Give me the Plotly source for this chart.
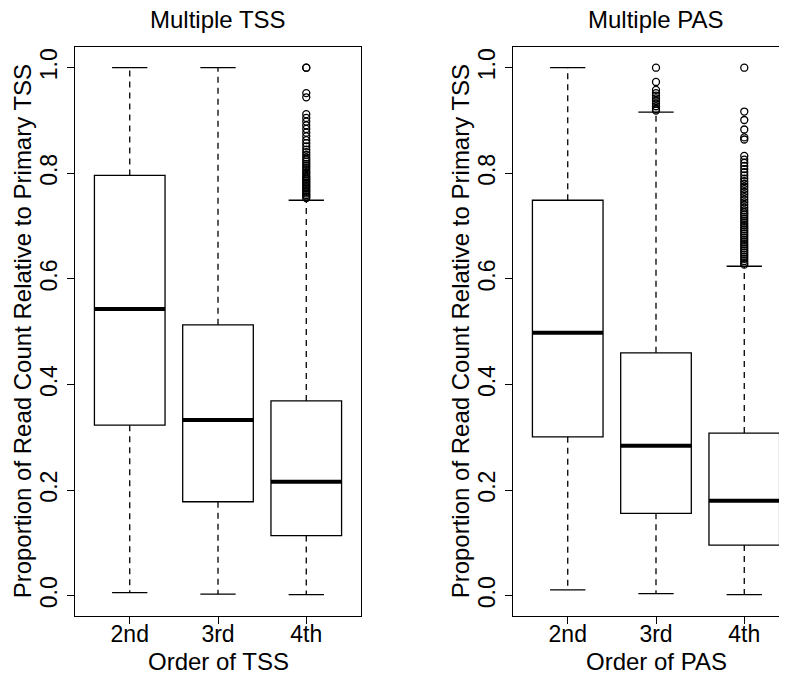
import plotly.graph_objects as go

# The page body has a default 8px margin; the figure is laid out so that it
# lands on the 787x673 window exactly.
OFF = 8
W, H = 787 - OFF, 673 - OFF

categories = ["2nd", "3rd", "4th"]

# Multiple TSS panel
tss_lower = [0.006, 0.003, 0.002]
tss_q1 = [0.323, 0.178, 0.114]
tss_median = [0.543, 0.333, 0.216]
tss_q3 = [0.796, 0.513, 0.369]
tss_upper = [1.0, 1.0, 0.749]
tss_out_2nd = []
tss_out_3rd = []
tss_out_4th = [1.0, 1.0, 0.952, 0.944, 0.912, 0.905, 0.898, 0.891, 0.884, 0.877,
               0.870, 0.863, 0.857, 0.851, 0.845, 0.840, 0.835, 0.830, 0.826, 0.822,
               0.818, 0.814, 0.810, 0.806, 0.802, 0.799, 0.795, 0.792, 0.789, 0.786,
               0.783, 0.780, 0.777, 0.774, 0.771, 0.768, 0.765, 0.762, 0.759, 0.756,
               0.753]

# Multiple PAS panel
pas_lower = [0.011, 0.004, 0.002]
pas_q1 = [0.301, 0.156, 0.096]
pas_median = [0.498, 0.284, 0.180]
pas_q3 = [0.749, 0.460, 0.308]
pas_upper = [1.0, 0.916, 0.624]
pas_out_2nd = []
pas_out_3rd = [1.0, 0.973, 0.958, 0.952, 0.947, 0.942, 0.937, 0.932, 0.927, 0.922, 0.919]
pas_out_4th = [1.0, 0.917, 0.901, 0.883, 0.868, 0.864, 0.833, 0.826, 0.820, 0.814,
               0.808, 0.802, 0.796, 0.790, 0.785, 0.780, 0.775, 0.770, 0.765, 0.760,
               0.755, 0.750, 0.745, 0.740, 0.735, 0.730, 0.726, 0.722, 0.718, 0.714,
               0.710, 0.706, 0.702, 0.698, 0.694, 0.690, 0.686, 0.682, 0.678, 0.674,
               0.670, 0.666, 0.662, 0.658, 0.654, 0.650, 0.646, 0.642, 0.638, 0.634,
               0.630, 0.627]

panels = [
    dict(title="Multiple TSS", xtitle="Order of TSS",
         lower=tss_lower, q1=tss_q1, med=tss_median, q3=tss_q3, upper=tss_upper,
         outs=[tss_out_2nd, tss_out_3rd, tss_out_4th]),
    dict(title="Multiple PAS", xtitle="Order of PAS",
         lower=pas_lower, q1=pas_q1, med=pas_median, q3=pas_q3, upper=pas_upper,
         outs=[pas_out_2nd, pas_out_3rd, pas_out_4th]),
]

ytitle = "Proportion of Read Count Relative to Primary TSS"

FONT = "Liberation Sans, Arial, sans-serif"
BOXW = 0.8
CAPW = 0.4
LW = 1.3

fig = go.Figure()
pos = [1, 2, 3]

for p_i, p in enumerate(panels):
    xa = "x" if p_i == 0 else "x2"
    ya = "y" if p_i == 0 else "y2"
    wx, wy = [], []
    for k, x in enumerate(pos):
        wx += [x, x, None, x, x, None]
        wy += [p["q3"][k], p["upper"][k], None, p["q1"][k], p["lower"][k], None]
    fig.add_trace(go.Scatter(x=wx, y=wy, mode="lines", xaxis=xa, yaxis=ya,
                             line=dict(color="black", width=LW, dash="6px,5px"),
                             hoverinfo="skip", showlegend=False))
    cx, cy = [], []
    for k, x in enumerate(pos):
        cx += [x - CAPW / 2, x + CAPW / 2, None, x - CAPW / 2, x + CAPW / 2, None]
        cy += [p["upper"][k], p["upper"][k], None, p["lower"][k], p["lower"][k], None]
    fig.add_trace(go.Scatter(x=cx, y=cy, mode="lines", xaxis=xa, yaxis=ya,
                             line=dict(color="black", width=LW),
                             hoverinfo="skip", showlegend=False))
    fig.add_trace(go.Box(x=pos, q1=p["q1"], median=p["med"], q3=p["q3"],
                         lowerfence=p["q1"], upperfence=p["q3"],
                         width=BOXW, fillcolor="white",
                         line=dict(color="black", width=LW),
                         boxpoints=False, xaxis=xa, yaxis=ya,
                         hoverinfo="skip", showlegend=False))
    mx, my = [], []
    for k, x in enumerate(pos):
        mx += [x - BOXW / 2, x + BOXW / 2, None]
        my += [p["med"][k], p["med"][k], None]
    fig.add_trace(go.Scatter(x=mx, y=my, mode="lines", xaxis=xa, yaxis=ya,
                             line=dict(color="black", width=4),
                             hoverinfo="skip", showlegend=False))
    ox, oy = [], []
    for k, x in enumerate(pos):
        ox += [x] * len(p["outs"][k])
        oy += p["outs"][k]
    fig.add_trace(go.Scatter(x=ox, y=oy, mode="markers", xaxis=xa, yaxis=ya,
                             marker=dict(symbol="circle-open", size=7, color="black",
                                         line=dict(width=1.3, color="black")),
                             hoverinfo="skip", showlegend=False))

frame_top = 46.7 - OFF
frame_bot = 616.0 - OFF
ydom = [(H - frame_bot) / H, (H - frame_top) / H]
yrange = [-0.0384, 1.0398]

L1, R1 = 75.0 - OFF, 361.0 - OFF
L2 = 513.0 - OFF
xd1 = [L1 / W, R1 / W]
xd2 = [L2 / W, 1.0]
ppu = (R1 - L1) / 3.24
xr1 = [0.38, 3.62]
xr2 = [0.38, 0.38 + (W - L2) / ppu]

common_x = dict(tickvals=pos, ticktext=categories, ticks="outside", ticklen=7,
                tickwidth=LW, tickcolor="black", showline=True, linecolor="black",
                linewidth=LW, showgrid=False, zeroline=False, ticklabelstandoff=-10,
                tickfont=dict(family=FONT, size=23, color="black"))
common_y = dict(range=yrange, domain=ydom, tickvals=[0, 0.2, 0.4, 0.6, 0.8, 1.0],
                ticktext=["0.0", "0.2", "0.4", "0.6", "0.8", "1.0"],
                ticks="outside", ticklen=7, tickwidth=LW, tickcolor="black",
                showline=True, linecolor="black", linewidth=LW, showgrid=False,
                zeroline=False, tickangle=-90, ticklabelstandoff=1,
                tickfont=dict(family=FONT, size=23, color="black"))

fig.update_layout(
    width=W, height=H,
    margin=dict(l=0, r=0, t=0, b=0),
    paper_bgcolor="white", plot_bgcolor="white",
    showlegend=False,
    xaxis=dict(domain=xd1, range=xr1, anchor="y", mirror=True, **common_x),
    yaxis=dict(anchor="x", mirror=True, **common_y),
    xaxis2=dict(domain=xd2, range=xr2, anchor="y2", mirror=True, **common_x),
    yaxis2=dict(anchor="x2", mirror=False, **common_y),
)

ycenter = (H - (frame_top + frame_bot) / 2) / H
annots = []
for p_i, p in enumerate(panels):
    if p_i == 0:
        cx_px = (L1 + R1) / 2
        ytx = 22 - OFF
    else:
        cx_px = L2 + (R1 - L1) / 2
        ytx = 22 - OFF + (L2 - L1)
    annots.append(dict(text=p["title"], x=cx_px / W, y=1 - (19.5 - OFF) / H, xref="paper",
                       yref="paper", xanchor="center", yanchor="middle", showarrow=False,
                       font=dict(family=FONT, size=24, color="black")))
    annots.append(dict(text=p["xtitle"], x=cx_px / W, y=1 - (661 - OFF) / H, xref="paper",
                       yref="paper", xanchor="center", yanchor="middle", showarrow=False,
                       font=dict(family=FONT, size=24, color="black")))
    annots.append(dict(text=ytitle, x=ytx / W, y=ycenter, xref="paper", yref="paper",
                       xanchor="center", yanchor="middle", showarrow=False, textangle=-90,
                       font=dict(family=FONT, size=24, color="black")))
fig.update_layout(annotations=annots)

fig.write_html("out.html")
